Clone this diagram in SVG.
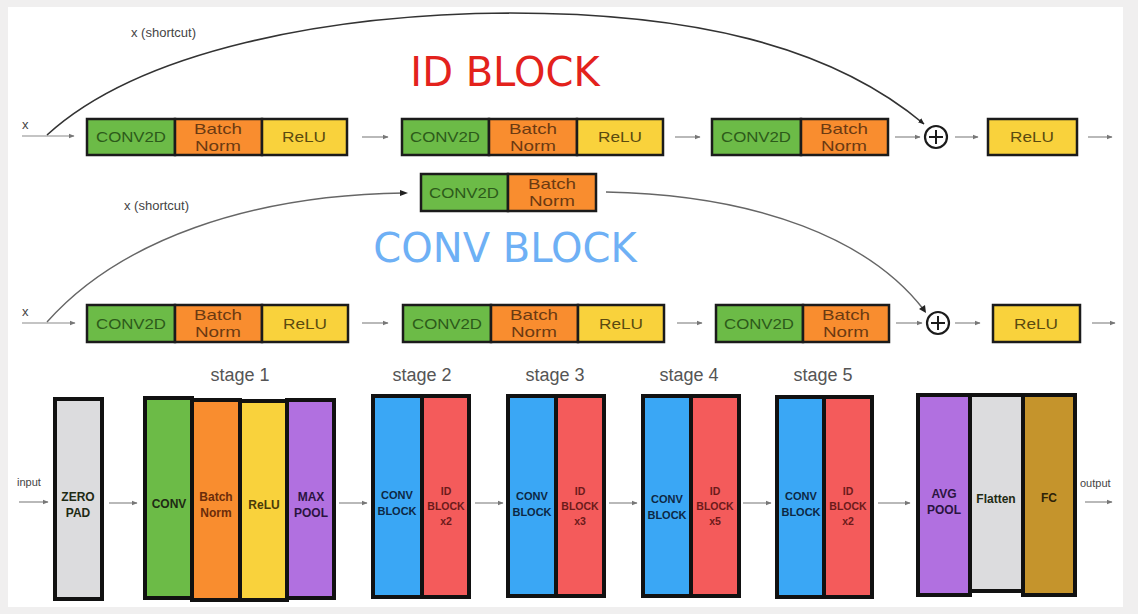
<svg xmlns="http://www.w3.org/2000/svg" width="1138" height="614" viewBox="0 0 1138 614">
  <style>
    .seg { stroke: #1b1b1b; stroke-width: 2.5; }
    .blk { stroke: #111; stroke-width: 4; }
    .green { fill: #6cbb47; }
    .orange { fill: #f98d2f; }
    .yellow { fill: #f9d23c; }
    .purple { fill: #b170e0; }
    .blue { fill: #3aa7f5; }
    .red { fill: #f45b5b; }
    .grey { fill: #dcdcde; }
    .gold { fill: #c5942c; }
    .t { font-family: "Liberation Sans", Arial, sans-serif; font-size: 15px; text-anchor: middle; }
    .tg { fill: #2c5a1a; }
    .to { fill: #6b3a12; }
    .ty { fill: #5a4a10; }
    .b { font-family: "Liberation Sans", Arial, sans-serif; font-size: 12px; font-weight: bold; text-anchor: middle; }
    .s { font-size: 11px; }
    .xs { font-size: 10.5px; }
    .bd { fill: #1e2a14; }
    .br { fill: #6b1a1a; }
    .bn { fill: #0d2744; }
    .lbl { font-family: "Liberation Sans", Arial, sans-serif; fill: #444; }
    .stage { font-family: "Liberation Sans", Arial, sans-serif; font-size: 18px; fill: #555; text-anchor: middle; }
    .flow { stroke: #8a8a8a; stroke-width: 1.2; fill: none; marker-end: url(#ah); }
    .sc { stroke: #333; stroke-width: 1.6; fill: none; marker-end: url(#ahd); }
    .sc2 { stroke: #666; stroke-width: 1.4; fill: none; }
  </style>
  <defs>
    <marker id="ah" viewBox="0 0 10 10" refX="9" refY="5" markerWidth="5" markerHeight="5" orient="auto">
      <path d="M0,1 L10,5 L0,9 z" fill="#777"/>
    </marker>
    <marker id="ahd" viewBox="0 0 10 10" refX="9" refY="5" markerWidth="4" markerHeight="4" orient="auto">
      <path d="M0,1 L10,5 L0,9 z" fill="#222"/>
    </marker>
  </defs>

  <!-- page -->
  <rect x="0" y="0" width="1138" height="614" fill="#f0efef"/>
  <rect x="8" y="7" width="1115" height="600" fill="#ffffff"/>

  <!-- titles -->
  <text x="505" y="86" font-family="DejaVu Sans, sans-serif" font-size="40" fill="#e3221c" text-anchor="middle">ID BLOCK</text>
  <text x="505" y="262" font-family="DejaVu Sans, sans-serif" font-size="40" fill="#6eb0f5" text-anchor="middle">CONV BLOCK</text>

  <!-- connectors -->
  <g id="connectors">
    <!-- identity block -->
    <path class="flow" d="M22,136 H74"/>
    <path class="flow" d="M362,137 H388"/>
    <path class="flow" d="M675,137 H700"/>
    <path class="flow" d="M895,137 H920"/>
    <path class="flow" d="M955,137 H978"/>
    <path class="flow" d="M1088,137 H1112"/>
    <path class="sc" d="M47,135 C140,50 330,14 510,13 C690,13 830,45 924,124"/>
    <!-- convolutional block -->
    <path class="flow" d="M22,323 H75"/>
    <path class="flow" d="M362,323 H388"/>
    <path class="flow" d="M677,323 H702"/>
    <path class="flow" d="M896,323 H922"/>
    <path class="flow" d="M955,323 H980"/>
    <path class="flow" d="M1092,323 H1115"/>
    <path class="sc2" d="M47,322 C120,240 250,195 404,193"/>
    <path d="M400,190 L408,193 L400,196 z" fill="#222"/>
    <path class="sc2" d="M606,192 C760,195 870,240 924,310"/>
    <path d="M919,309 L926,313 L925,305 z" fill="#222"/>
    <!-- ResNet stages -->
    <path class="flow" d="M19,502 H48"/>
    <path class="flow" d="M109,503 H137"/>
    <path class="flow" d="M339,503 H367"/>
    <path class="flow" d="M475,503 H503"/>
    <path class="flow" d="M609,503 H637"/>
    <path class="flow" d="M743,503 H771"/>
    <path class="flow" d="M878,503 H910"/>
    <path class="flow" d="M1085,502 H1112"/>
  </g>

  <!-- labels -->
  <text class="lbl" x="22" y="129" font-size="13">x</text>
  <text class="lbl" x="131" y="37" font-size="13">x (shortcut)</text>
  <text class="lbl" x="22" y="316" font-size="13">x</text>
  <text class="lbl" x="124" y="210" font-size="13">x (shortcut)</text>
  <text class="lbl" x="17" y="486" font-size="11">input</text>
  <text class="lbl" x="1080" y="487" font-size="11">output</text>

  <!-- identity block row -->
  <g id="id-conv-a">
    <rect class="seg green" x="87" y="119" width="88" height="36"/>
    <text class="t tg" x="131" y="142" textLength="70" lengthAdjust="spacingAndGlyphs">CONV2D</text>
  </g>
  <g id="id-bn-a">
    <rect class="seg orange" x="175" y="119" width="87" height="36"/>
    <text class="t to" x="218" y="134" textLength="48" lengthAdjust="spacingAndGlyphs">Batch</text>
    <text class="t to" x="218" y="151" textLength="46" lengthAdjust="spacingAndGlyphs">Norm</text>
  </g>
  <g id="id-relu-a">
    <rect class="seg yellow" x="262" y="119" width="85" height="36"/>
    <text class="t ty" x="304" y="142" textLength="44" lengthAdjust="spacingAndGlyphs">ReLU</text>
  </g>
  <g id="id-conv-b">
    <rect class="seg green" x="402" y="119" width="87" height="36"/>
    <text class="t tg" x="445" y="142" textLength="70" lengthAdjust="spacingAndGlyphs">CONV2D</text>
  </g>
  <g id="id-bn-b">
    <rect class="seg orange" x="489" y="119" width="88" height="36"/>
    <text class="t to" x="533" y="134" textLength="48" lengthAdjust="spacingAndGlyphs">Batch</text>
    <text class="t to" x="533" y="151" textLength="46" lengthAdjust="spacingAndGlyphs">Norm</text>
  </g>
  <g id="id-relu-b">
    <rect class="seg yellow" x="577" y="119" width="86" height="36"/>
    <text class="t ty" x="620" y="142" textLength="44" lengthAdjust="spacingAndGlyphs">ReLU</text>
  </g>
  <g id="id-conv-c">
    <rect class="seg green" x="712" y="119" width="89" height="36"/>
    <text class="t tg" x="756" y="142" textLength="70" lengthAdjust="spacingAndGlyphs">CONV2D</text>
  </g>
  <g id="id-bn-c">
    <rect class="seg orange" x="801" y="119" width="87" height="36"/>
    <text class="t to" x="844" y="134" textLength="48" lengthAdjust="spacingAndGlyphs">Batch</text>
    <text class="t to" x="844" y="151" textLength="46" lengthAdjust="spacingAndGlyphs">Norm</text>
  </g>
  <g id="id-add">
    <circle cx="936" cy="137" r="11" fill="#fff" stroke="#1b1b1b" stroke-width="2.2"/>
    <path d="M929,137 H943 M936,130 V144" stroke="#1b1b1b" stroke-width="2"/>
  </g>
  <g id="id-relu-out">
    <rect class="seg yellow" x="988" y="119" width="89" height="36"/>
    <text class="t ty" x="1032" y="142" textLength="44" lengthAdjust="spacingAndGlyphs">ReLU</text>
  </g>

  <!-- convolutional block shortcut -->
  <g id="cb-short-conv">
    <rect class="seg green" x="421" y="174" width="87" height="37"/>
    <text class="t tg" x="464" y="198" textLength="70" lengthAdjust="spacingAndGlyphs">CONV2D</text>
  </g>
  <g id="cb-short-bn">
    <rect class="seg orange" x="508" y="174" width="88" height="37"/>
    <text class="t to" x="552" y="189" textLength="48" lengthAdjust="spacingAndGlyphs">Batch</text>
    <text class="t to" x="552" y="206" textLength="46" lengthAdjust="spacingAndGlyphs">Norm</text>
  </g>

  <!-- convolutional block row -->
  <g id="cb-conv-a">
    <rect class="seg green" x="87" y="305" width="88" height="37"/>
    <text class="t tg" x="131" y="329" textLength="70" lengthAdjust="spacingAndGlyphs">CONV2D</text>
  </g>
  <g id="cb-bn-a">
    <rect class="seg orange" x="175" y="305" width="87" height="37"/>
    <text class="t to" x="218" y="320" textLength="48" lengthAdjust="spacingAndGlyphs">Batch</text>
    <text class="t to" x="218" y="337" textLength="46" lengthAdjust="spacingAndGlyphs">Norm</text>
  </g>
  <g id="cb-relu-a">
    <rect class="seg yellow" x="262" y="305" width="86" height="37"/>
    <text class="t ty" x="305" y="329" textLength="44" lengthAdjust="spacingAndGlyphs">ReLU</text>
  </g>
  <g id="cb-conv-b">
    <rect class="seg green" x="403" y="305" width="88" height="37"/>
    <text class="t tg" x="447" y="329" textLength="70" lengthAdjust="spacingAndGlyphs">CONV2D</text>
  </g>
  <g id="cb-bn-b">
    <rect class="seg orange" x="491" y="305" width="87" height="37"/>
    <text class="t to" x="534" y="320" textLength="48" lengthAdjust="spacingAndGlyphs">Batch</text>
    <text class="t to" x="534" y="337" textLength="46" lengthAdjust="spacingAndGlyphs">Norm</text>
  </g>
  <g id="cb-relu-b">
    <rect class="seg yellow" x="578" y="305" width="86" height="37"/>
    <text class="t ty" x="621" y="329" textLength="44" lengthAdjust="spacingAndGlyphs">ReLU</text>
  </g>
  <g id="cb-conv-c">
    <rect class="seg green" x="716" y="305" width="87" height="37"/>
    <text class="t tg" x="759" y="329" textLength="70" lengthAdjust="spacingAndGlyphs">CONV2D</text>
  </g>
  <g id="cb-bn-c">
    <rect class="seg orange" x="803" y="305" width="86" height="37"/>
    <text class="t to" x="846" y="320" textLength="48" lengthAdjust="spacingAndGlyphs">Batch</text>
    <text class="t to" x="846" y="337" textLength="46" lengthAdjust="spacingAndGlyphs">Norm</text>
  </g>
  <g id="cb-add">
    <circle cx="938" cy="323" r="11" fill="#fff" stroke="#1b1b1b" stroke-width="2.2"/>
    <path d="M931,323 H945 M938,316 V330" stroke="#1b1b1b" stroke-width="2"/>
  </g>
  <g id="cb-relu-out">
    <rect class="seg yellow" x="993" y="305" width="87" height="37"/>
    <text class="t ty" x="1036" y="329" textLength="44" lengthAdjust="spacingAndGlyphs">ReLU</text>
  </g>

  <!-- stage captions -->
  <text class="stage" x="240" y="381">stage 1</text>
  <text class="stage" x="422" y="381">stage 2</text>
  <text class="stage" x="555" y="381">stage 3</text>
  <text class="stage" x="689" y="381">stage 4</text>
  <text class="stage" x="823" y="381">stage 5</text>

  <!-- ResNet-50 pipeline -->
  <g id="zero-pad">
    <rect class="blk grey" x="55" y="399" width="47" height="200"/>
    <text class="b bd" x="78" y="501">ZERO</text>
    <text class="b bd" x="78" y="517">PAD</text>
  </g>
  <g id="s1-conv">
    <rect class="blk green" x="145" y="398" width="47" height="200"/>
    <text class="b bd" x="169" y="508">CONV</text>
  </g>
  <g id="s1-bn">
    <rect class="blk orange" x="192" y="400" width="48" height="200"/>
    <text class="b" x="216" y="501" fill="#6b2c0a">Batch</text>
    <text class="b" x="216" y="517" fill="#6b2c0a">Norm</text>
  </g>
  <g id="s1-relu">
    <rect class="blk yellow" x="240" y="401" width="47" height="199"/>
    <text class="b" x="264" y="509" fill="#4a3a08">ReLU</text>
  </g>
  <g id="s1-maxpool">
    <rect class="blk purple" x="287" y="400" width="47" height="198"/>
    <text class="b" x="311" y="501" fill="#2a1440">MAX</text>
    <text class="b" x="311" y="517" fill="#2a1440">POOL</text>
  </g>

  <g id="s2-conv">
    <rect class="blk blue" x="373" y="396" width="49" height="201"/>
    <text class="b s bn" x="397" y="499">CONV</text>
    <text class="b s bn" x="397" y="515">BLOCK</text>
  </g>
  <g id="s2-id">
    <rect class="blk red" x="422" y="396" width="47" height="201"/>
    <text class="b xs br" x="446" y="495">ID</text>
    <text class="b xs br" x="446" y="510">BLOCK</text>
    <text class="b xs br" x="446" y="525">x2</text>
  </g>
  <g id="s3-conv">
    <rect class="blk blue" x="508" y="396" width="48" height="200"/>
    <text class="b s bn" x="532" y="500">CONV</text>
    <text class="b s bn" x="532" y="516">BLOCK</text>
  </g>
  <g id="s3-id">
    <rect class="blk red" x="556" y="396" width="48" height="200"/>
    <text class="b xs br" x="580" y="495">ID</text>
    <text class="b xs br" x="580" y="510">BLOCK</text>
    <text class="b xs br" x="580" y="525">x3</text>
  </g>
  <g id="s4-conv">
    <rect class="blk blue" x="643" y="396" width="48" height="200"/>
    <text class="b s bn" x="667" y="503">CONV</text>
    <text class="b s bn" x="667" y="519">BLOCK</text>
  </g>
  <g id="s4-id">
    <rect class="blk red" x="691" y="396" width="48" height="200"/>
    <text class="b xs br" x="715" y="495">ID</text>
    <text class="b xs br" x="715" y="510">BLOCK</text>
    <text class="b xs br" x="715" y="525">x5</text>
  </g>
  <g id="s5-conv">
    <rect class="blk blue" x="777" y="397" width="47" height="200"/>
    <text class="b s bn" x="801" y="500">CONV</text>
    <text class="b s bn" x="801" y="516">BLOCK</text>
  </g>
  <g id="s5-id">
    <rect class="blk red" x="824" y="397" width="48" height="200"/>
    <text class="b xs br" x="848" y="495">ID</text>
    <text class="b xs br" x="848" y="510">BLOCK</text>
    <text class="b xs br" x="848" y="525">x2</text>
  </g>

  <g id="avg-pool">
    <rect class="blk purple" x="918" y="395" width="52" height="200"/>
    <text class="b" x="944" y="498" fill="#2a1440">AVG</text>
    <text class="b" x="944" y="514" fill="#2a1440">POOL</text>
  </g>
  <g id="flatten">
    <rect class="blk grey" x="970" y="395" width="53" height="196"/>
    <text class="b bd" x="996" y="503">Flatten</text>
  </g>
  <g id="fc">
    <rect class="blk gold" x="1023" y="395" width="52" height="200"/>
    <text class="b" x="1049" y="502" fill="#2e2208">FC</text>
  </g>
</svg>
